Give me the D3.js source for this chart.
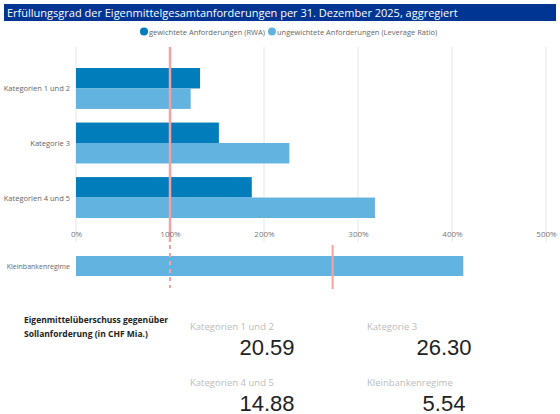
<!DOCTYPE html><html><head><meta charset="utf-8"><script src="https://cdn.jsdelivr.net/npm/d3@7"></script>
<style>body{margin:0;background:#fff;font-family:"Segoe UI","Open Sans",sans-serif}</style></head><body><svg id="c" width="560" height="414"></svg>
<script>
const categories=["Kategorien 1 und 2","Kategorie 3","Kategorien 4 und 5"];
const rwa=[132,152,187];
const lev=[122,227,318];
const kleinCat=["Kleinbankenregime"];
const kleinVal=[412];
const kleinReq=273;
const ticks=[0,100,200,300,400,500];
const kpiLabels=["Kategorien 1 und 2","Kategorie 3","Kategorien 4 und 5","Kleinbankenregime"];
const kpiValues=["20.59","26.30","14.88","5.54"];
const C1="#007dba",C2="#62b3df",RED="#f4a3a3";
const svg=d3.select("#c");
svg.append("rect").attr("x",4).attr("y",4).attr("width",552).attr("height",17).attr("fill","#003594");
svg.append("text").attr("x",7).attr("y",16.5).attr("fill","#fff").attr("font-size",11).text("Erfüllungsgrad der Eigenmittelgesamtanforderungen per 31. Dezember 2025, aggregiert");
const lg=svg.append("g").attr("font-size",7.5).attr("fill","#666");
let lx=140;
[[C1,"gewichtete Anforderungen (RWA)"],[C2,"ungewichtete Anforderungen (Leverage Ratio)"]].forEach(([c,t])=>{
 lg.append("circle").attr("cx",lx+4).attr("cy",31.5).attr("r",4).attr("fill",c);
 const tx=lg.append("text").attr("x",lx+9).attr("y",34.5).text(t);
 lx+=9+tx.node().getComputedTextLength()+3;});
const x=d3.scaleLinear().domain([0,500]).range([76,546]);
const y=d3.scaleBand().domain(categories).range([68,218]).paddingInner(0.25).paddingOuter(0);
const g=svg.append("g");
g.selectAll(".grid").data(ticks).join("line").attr("x1",d=>x(d)).attr("x2",d=>x(d)).attr("y1",47).attr("y2",242).attr("stroke","#e6e6e6");
const ax=svg.append("g").attr("transform","translate(0,228)").call(d3.axisBottom(x).tickValues(ticks).tickFormat(d=>d+"%").tickSize(0));
ax.select(".domain").remove();ax.selectAll("text").attr("fill","#777").attr("font-size",8).attr("font-family","Segoe UI,Open Sans,sans-serif");
categories.forEach((c,i)=>{
 g.append("rect").attr("x",x(0)).attr("y",y(c)).attr("width",x(rwa[i])-x(0)).attr("height",y.bandwidth()/2).attr("fill",C1);
 g.append("rect").attr("x",x(0)).attr("y",y(c)+y.bandwidth()/2).attr("width",x(lev[i])-x(0)).attr("height",y.bandwidth()/2).attr("fill",C2);
 g.append("text").attr("x",70).attr("y",y(c)+y.bandwidth()/2+3).attr("text-anchor","end").attr("font-size",7.5).attr("fill","#666").text(c);
});
g.append("line").attr("x1",x(100)).attr("x2",x(100)).attr("y1",47).attr("y2",242).attr("stroke",RED).attr("stroke-width",2.5);
const y2=d3.scaleBand().domain(kleinCat).range([256,276]);
g.append("rect").attr("x",x(0)).attr("y",y2(kleinCat[0])).attr("width",x(kleinVal[0])-x(0)).attr("height",y2.bandwidth()).attr("fill",C2);
g.append("text").attr("x",70).attr("y",269).attr("text-anchor","end").attr("font-size",7).attr("fill","#666").text(kleinCat[0]);
g.append("line").attr("x1",x(100)).attr("x2",x(100)).attr("y1",245).attr("y2",288).attr("stroke",RED).attr("stroke-width",2).attr("stroke-dasharray","4,4");
g.append("line").attr("x1",x(kleinReq)).attr("x2",x(kleinReq)).attr("y1",245).attr("y2",289).attr("stroke",RED).attr("stroke-width",2);
svg.append("text").attr("x",24).attr("y",323).attr("font-size",8.5).attr("font-weight","bold").attr("fill","#222").text("Eigenmittelüberschuss gegenüber");
svg.append("text").attr("x",24).attr("y",337).attr("font-size",8.5).attr("font-weight","bold").attr("fill","#222").text("Sollanforderung (in CHF Mia.)");
const kx=[190,367],kcx=[267,444],ky=[330,386];
kpiLabels.forEach((l,i)=>{const c=i%2,r=Math.floor(i/2);
 svg.append("text").attr("x",kx[c]).attr("y",ky[r]).attr("font-size",9.5).attr("fill","#bbb").text(l);
 svg.append("text").attr("x",kcx[c]).attr("y",ky[r]+25).attr("text-anchor","middle").attr("font-size",22).attr("fill","#222").attr("font-family","Liberation Sans,Arial,sans-serif").text(kpiValues[i]);
});
</script></body></html>
